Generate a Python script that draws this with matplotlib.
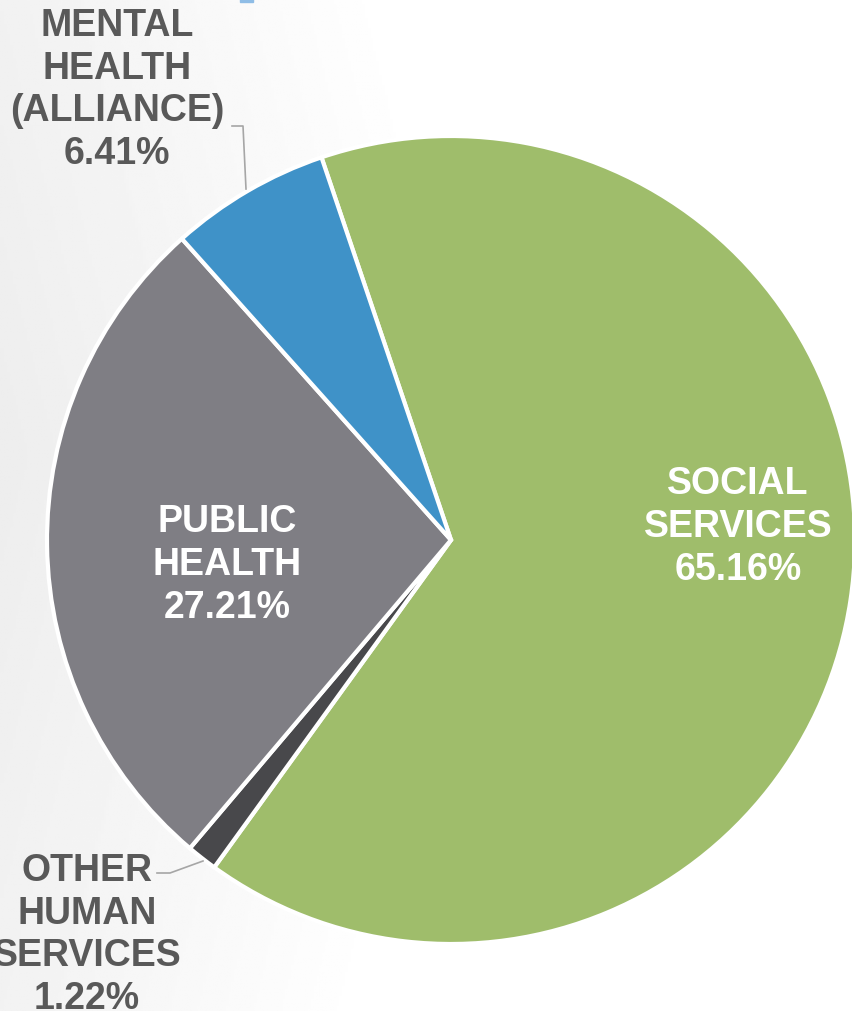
import numpy as np
import matplotlib
matplotlib.use("Agg")
import matplotlib.pyplot as plt

# Data
labels = ["SOCIAL\nSERVICES", "OTHER\nHUMAN\nSERVICES", "PUBLIC\nHEALTH", "MENTAL\nHEALTH\n(ALLIANCE)"]
shares = [65.16, 1.22, 27.21, 6.41]
colors = ["#9fbd6b", "#48484b", "#7f7e84", "#3f92c8"]

plt.rcParams["font.family"] = ["Liberation Sans", "DejaVu Sans"]

W, H = 852, 1012
fig = plt.figure(figsize=(W / 100, H / 100), dpi=100)

# soft grey background fading to white on the right
bg = fig.add_axes([0, 0, 1, 1])
xx = np.linspace(0, 1, 300)
yy = np.linspace(0, 1, 300)
X, Y = np.meshgrid(xx, yy)
shade = np.clip(1 - (X * 1.7 + np.abs(Y - 0.45) * 0.5), 0, 1)
bg.imshow(0.93 + 0.07 * (1 - shade), cmap="gray", vmin=0, vmax=1,
          extent=[0, 1, 0, 1], aspect="auto", origin="upper")
bg.add_patch(plt.Rectangle((240 / W, 1 - 3 / H), 13 / W, 3 / H, color="#8fbde6"))
bg.set_xlim(0, 1)
bg.set_ylim(0, 1)
bg.axis("off")

# pie axes: centre (451, 541), radius 404 px
cx, cy, r = 451, 541, 404
ax = fig.add_axes([(cx - r) / W, 1 - (cy + r) / H, 2 * r / W, 2 * r / H])
wedges, _ = ax.pie(shares, colors=colors, startangle=108.7, counterclock=False,
                   wedgeprops=dict(edgecolor="white", linewidth=3), radius=1)
ax.set_xlim(-1, 1)
ax.set_ylim(-1, 1)
ax.set_aspect("equal")
ax.axis("off")

def px(x, y):
    return ((x - cx) / r, (cy - y) / r)

fs = 27
ls = 1.24
texts = [f"{l}\n{s:.2f}%" for l, s in zip(labels, shares)]
ax.text(*px(738, 527), texts[0], color="white", fontsize=fs, fontweight="bold",
        ha="center", va="center", linespacing=ls)
ax.text(*px(227, 565), texts[2], color="white", fontsize=fs, fontweight="bold",
        ha="center", va="center", linespacing=ls)
ax.text(*px(117, 90), texts[3], color="#595959", fontsize=fs, fontweight="bold",
        ha="center", va="center", linespacing=ls, clip_on=False)
ax.text(*px(87, 935), texts[1], color="#595959", fontsize=fs, fontweight="bold",
        ha="center", va="center", linespacing=ls, clip_on=False)

# leader lines
p = [px(232, 127), px(243, 127), px(246, 190)]
ax.plot([q[0] for q in p], [q[1] for q in p], color="#a6a6a6", lw=1.2, clip_on=False)
p = [px(157, 874), px(170, 874), px(203, 862)]
ax.plot([q[0] for q in p], [q[1] for q in p], color="#a6a6a6", lw=1.2, clip_on=False)

fig.savefig("out.png", dpi=100)
